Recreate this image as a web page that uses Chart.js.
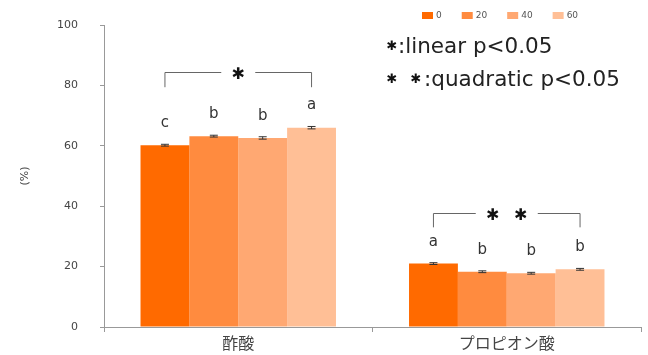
<!DOCTYPE html>
<html>
<head>
<meta charset="utf-8">
<script src="https://cdn.jsdelivr.net/npm/chart.js@4"></script>
<style>
  html, body { margin: 0; background: #fff; }
  #wrap { width: 648px; height: 355px; }
</style>
</head>
<body>
<div id="wrap"><canvas id="chart"></canvas></div>
<script>
const categories = ['酢酸', 'プロピオン酸'];
const levels = ['0', '20', '40', '60'];
const levelColors = ['#ff6a00', '#ff8b3f', '#ffa872', '#ffbf96'];

// mean (%) per level, in category order
const mean0  = [60.2, 21.0];
const mean20 = [63.2, 18.3];
const mean40 = [62.6, 17.8];
const mean60 = [66.0, 19.1];
// standard error per level
const se0  = [0.3, 0.3];
const se20 = [0.3, 0.3];
const se40 = [0.4, 0.3];
const se60 = [0.4, 0.3];
// multiple-comparison letters per level
const letters0  = ['c', 'a'];
const letters20 = ['b', 'b'];
const letters40 = ['b', 'b'];
const letters60 = ['a', 'b'];

// trend test per category: number of stars, bracket height and foot
const trendStars  = [1, 2];
const bracketTop  = [84.4, 37.6];
const bracketFoot = [79.4, 33.0];

const yTicks = [0, 20, 40, 60, 80, 100];
const trendNotes = [
  { stars: 1, text: ':linear p<0.05' },
  { stars: 2, text: ':quadratic p<0.05' }
];

const means   = [mean0, mean20, mean40, mean60];
const errors  = [se0, se20, se40, se60];
const letters = [letters0, letters20, letters40, letters60];

const LATIN = '"DejaVu Sans", "Liberation Sans", sans-serif';
const CJK = '"Noto Sans CJK JP", sans-serif';

function drawStar(ctx, x, y, size) {
  ctx.font = size + 'px ' + LATIN;
  ctx.textAlign = 'center';
  ctx.textBaseline = 'middle';
  ctx.fillText('✱', x, y);
}

const annotate = {
  id: 'annotate',
  afterDatasetsDraw(chart) {
    const { ctx, scales: { y } } = chart;
    ctx.save();
    ctx.lineWidth = 1;

    // error bars + letters
    chart.data.datasets.forEach((ds, i) => {
      chart.getDatasetMeta(i).data.forEach((bar, j) => {
        const v = ds.data[j], e = errors[i][j];
        const yt = y.getPixelForValue(v + e), yb = y.getPixelForValue(v - e);
        ctx.strokeStyle = '#333';
        ctx.beginPath();
        ctx.moveTo(bar.x, yt); ctx.lineTo(bar.x, yb);
        ctx.moveTo(bar.x - 4, yt); ctx.lineTo(bar.x + 4, yt);
        ctx.moveTo(bar.x - 4, yb); ctx.lineTo(bar.x + 4, yb);
        ctx.stroke();
        ctx.fillStyle = '#333';
        ctx.font = '15px ' + LATIN;
        ctx.textAlign = 'center';
        ctx.textBaseline = 'alphabetic';
        ctx.fillText(letters[i][j], bar.x, yt - 17);
      });
    });

    // trend brackets over each group
    categories.forEach((c, j) => {
      const x0 = chart.getDatasetMeta(0).data[j].x;
      const x1 = chart.getDatasetMeta(levels.length - 1).data[j].x;
      const yt = Math.round(y.getPixelForValue(bracketTop[j])) + 0.5;
      const yf = y.getPixelForValue(bracketFoot[j]);
      const mid = (x0 + x1) / 2;
      const n = trendStars[j];
      const half = ((n - 1) * 28 + 34) / 2;
      ctx.strokeStyle = '#666';
      ctx.beginPath();
      ctx.moveTo(x0, yf); ctx.lineTo(x0, yt); ctx.lineTo(mid - half, yt);
      ctx.moveTo(mid + half, yt); ctx.lineTo(x1, yt); ctx.lineTo(x1, yf);
      ctx.stroke();
      ctx.fillStyle = '#111';
      for (let k = 0; k < n; k++) drawStar(ctx, mid - (n - 1) * 14 + k * 28, yt + 2, 16);
    });

    // legend
    let lx = 422;
    ctx.font = '9px ' + LATIN;
    ctx.textAlign = 'left';
    ctx.textBaseline = 'middle';
    chart.data.datasets.forEach(ds => {
      ctx.fillStyle = ds.backgroundColor;
      ctx.fillRect(lx, 12, 11, 7);
      ctx.fillStyle = '#555';
      ctx.fillText(ds.label, lx + 14, 16);
      lx += 14 + ctx.measureText(ds.label).width + 20;
    });

    // trend test notes
    trendNotes.forEach((note, k) => {
      const ny = 47 + k * 33;
      ctx.fillStyle = '#111';
      for (let s = 0; s < note.stars; s++) drawStar(ctx, 392 + s * 24, ny, 13);
      ctx.font = '21.5px ' + LATIN;
      ctx.textAlign = 'left';
      ctx.textBaseline = 'middle';
      ctx.fillStyle = '#222';
      ctx.fillText(note.text, 398 + (note.stars - 1) * 26, ny);
    });
    ctx.restore();
  }
};

new Chart(document.getElementById('chart'), {
  type: 'bar',
  data: {
    labels: categories,
    datasets: levels.map((lv, i) => ({
      label: lv,
      data: means[i],
      backgroundColor: levelColors[i],
      borderWidth: 0,
      categoryPercentage: 0.728,
      barPercentage: 1
    }))
  },
  options: {
    responsive: true,
    maintainAspectRatio: false,
    animation: false,
    layout: { padding: { left: 14, right: 7, top: 25, bottom: 1 } },
    plugins: { legend: { display: false }, tooltip: { enabled: false } },
    scales: {
      x: {
        grid: { drawOnChartArea: false, tickLength: 5, color: '#999' },
        border: { color: '#999' },
        ticks: { color: '#444', padding: 3, font: { family: CJK, size: 16, lineHeight: 1 } }
      },
      y: {
        min: 0, max: 100,
        afterBuildTicks: s => { s.ticks = yTicks.map(v => ({ value: v })); },
        // fixed axis width; the wide label padding shouldn't push the plot down
        afterFit: s => { s.width = 90; s.paddingTop = 0; s.paddingBottom = 0; },
        grid: { drawOnChartArea: false, tickLength: 4, color: '#999' },
        border: { color: '#999' },
        ticks: { color: '#444', padding: 22, font: { family: LATIN, size: 11 } },
        title: { display: true, text: '(%)', color: '#444', padding: { top: 5, bottom: 0 },
                 font: { family: LATIN, size: 11 } }
      }
    }
  },
  plugins: [annotate]
});
</script>
</body>
</html>
